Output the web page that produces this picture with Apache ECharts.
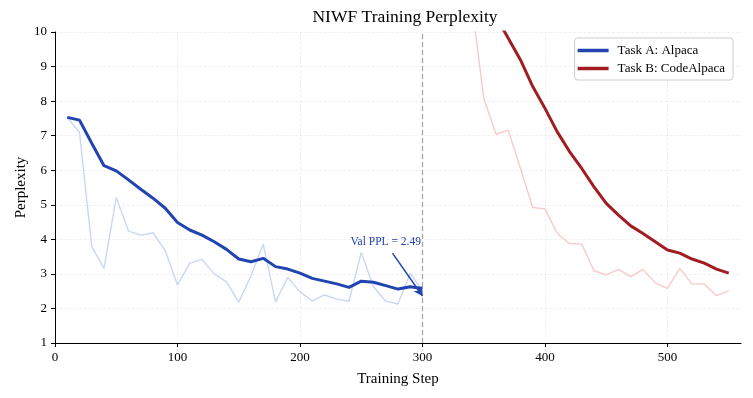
<!DOCTYPE html>
<html>
<head>
<meta charset="utf-8">
<script src="https://cdn.jsdelivr.net/npm/echarts@6/dist/echarts.min.js"></script>
<style>html,body{margin:0;padding:0;background:#fff}#c{width:753px;height:398px}</style>
</head>
<body>
<div id="c"></div>
<script>
const stepsA = [10,20,30,40,50,60,70,80,90,100,110,120,130,140,150,160,170,180,190,200,210,220,230,240,250,260,270,280,290,300];
const smoothA = [7.53,7.45,6.78,6.13,5.98,5.72,5.45,5.19,4.90,4.49,4.27,4.12,3.93,3.71,3.43,3.35,3.45,3.21,3.14,3.02,2.87,2.79,2.71,2.61,2.79,2.76,2.66,2.56,2.63,2.58];
const rawA = [7.53,7.10,3.79,3.16,5.21,4.24,4.12,4.19,3.67,2.68,3.31,3.42,3.00,2.77,2.18,2.95,3.86,2.19,2.90,2.48,2.22,2.39,2.27,2.21,3.62,2.63,2.21,2.13,3.02,2.49];
const stepsB = [310,320,330,340,350,360,370,380,390,400,410,420,430,440,450,460,470,480,490,500,510,520,530,540,550];
const smoothB = [14.0,13.2,12.5,11.8,11.1,10.45,9.82,9.19,8.42,7.79,7.11,6.54,6.05,5.52,5.04,4.70,4.39,4.17,3.93,3.69,3.60,3.43,3.31,3.14,3.02];
const rawB = [16.0,14.5,12.8,10.9,8.08,7.04,7.16,6.05,4.92,4.88,4.17,3.88,3.86,3.09,2.97,3.13,2.92,3.13,2.74,2.58,3.16,2.71,2.71,2.37,2.51];
const xTicks = [0,100,200,300,400,500];
const switchStep = 300;
const valPPL = 2.49;
const annoText = 'Val PPL = 2.49';
const annoTextPos = [270, 3.92];
const annoArrowFrom = [275.5, 3.6];
const annoArrowTo = [300, 2.36];

const pairs = (xs, ys) => xs.map((x, i) => [x, ys[i]]);
const FONT = 'Liberation Serif';
const chart = echarts.init(document.getElementById('c'), null, {renderer: 'canvas'});
chart.setOption({
  animation: false,
  textStyle: {fontFamily: FONT},
  title: {
    text: 'NIWF Training Perplexity', left: 400, top: 3, textAlign: 'center',
    textStyle: {fontFamily: FONT, fontSize: 17.5, fontWeight: 'normal', color: '#000'}
  },
  legend: {
    data: ['Task A: Alpaca', 'Task B: CodeAlpaca'],
    orient: 'vertical', right: 20, top: 38,
    icon: 'rect', itemWidth: 31, itemHeight: 3.5, itemGap: 5,
    backgroundColor: '#fff', borderColor: '#ccc', borderWidth: 1, borderRadius: 3,
    padding: [6, 8, 5, 3],
    textStyle: {fontFamily: FONT, fontSize: 13, color: '#000', padding: [0, 0, 0, 4]}
  },
  grid: {left: 55, right: 12, top: 32, bottom: 55},
  xAxis: {
    type: 'value', min: 0, max: 560, interval: 100,
    name: 'Training Step', nameLocation: 'middle', nameGap: 29,
    nameTextStyle: {fontFamily: FONT, fontSize: 15, color: '#000'},
    axisLine: {lineStyle: {color: '#000', width: 1}},
    axisTick: {show: true, length: 4, inside: false, customValues: xTicks, lineStyle: {color: '#000'}},
    axisLabel: {fontFamily: FONT, fontSize: 13, color: '#000', margin: 8, customValues: xTicks},
    splitLine: {show: true, lineStyle: {color: '#eeeeee', type: 'dashed', width: 0.8}}
  },
  yAxis: {
    type: 'value', min: 1, max: 10, interval: 1,
    name: 'Perplexity', nameLocation: 'middle', nameGap: 26, nameMoveOverlap: false,
    nameTextStyle: {fontFamily: FONT, fontSize: 15, color: '#000'},
    axisLine: {show: true, lineStyle: {color: '#000', width: 1}},
    axisTick: {show: true, length: 4, lineStyle: {color: '#000'}},
    axisLabel: {fontFamily: FONT, fontSize: 13, color: '#000', margin: 8},
    splitLine: {show: true, lineStyle: {color: '#eeeeee', type: 'dashed', width: 0.8}}
  },
  series: [
    {
      name: 'rawA', type: 'line', data: pairs(stepsA, rawA), symbol: 'none', clip: true,
      lineStyle: {color: '#c9d7f6', width: 1.4}, z: 2,
      markLine: {
        silent: true, symbol: ['none', 'none'], label: {show: false},
        lineStyle: {color: '#a8a8a8', type: [5, 3], width: 1.3},
        data: [{xAxis: switchStep}]
      }
    },
    {
      name: 'rawB', type: 'line', data: pairs(stepsB, rawB), symbol: 'none', clip: true,
      lineStyle: {color: '#f8caca', width: 1.4}, z: 2
    },
    {
      name: 'Task A: Alpaca', type: 'line', data: pairs(stepsA, smoothA), symbol: 'none', clip: true,
      color: '#2144b0', lineStyle: {color: '#2144b0', width: 3}, z: 3,
      markLine: {
        silent: true, symbol: ['none', 'arrow'], symbolSize: [7, 9],
        label: {show: false},
        lineStyle: {color: '#2144b0', type: 'solid', width: 1.5},
        data: [[{coord: annoArrowFrom}, {coord: annoArrowTo}]]
      },
      markPoint: {
        silent: true, symbol: 'circle', symbolSize: 0,
        label: {show: true, formatter: annoText, color: '#2144b0', fontFamily: FONT, fontSize: 11.5, position: 'inside'},
        data: [{coord: annoTextPos, value: valPPL}]
      }
    },
    {
      name: 'Task B: CodeAlpaca', type: 'line', data: pairs(stepsB, smoothB), symbol: 'none', clip: true,
      color: '#a11d22', lineStyle: {color: '#a11d22', width: 3}, z: 3
    }
  ]
});
</script>
</body>
</html>
